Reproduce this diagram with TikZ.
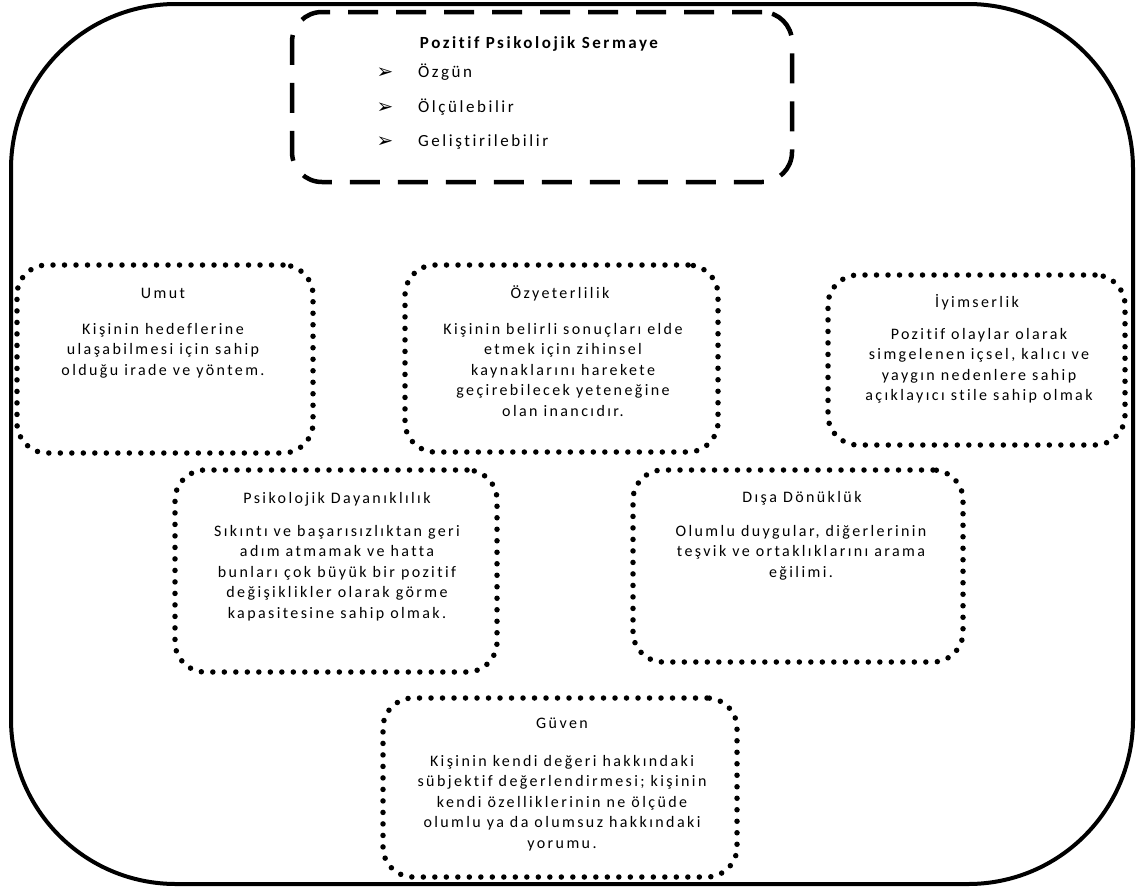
\documentclass[tikz,border=0pt]{standalone}
\usepackage{fontspec}
\setmainfont{Carlito}[LetterSpace=15, Ligatures={NoCommon}]
\newfontfamily\symfont{DejaVu Sans}

\begin{document}
\begin{tikzpicture}[x=1pt, y=-1pt,
  every node/.style = {inner sep=0pt, align=center,
    font=\fontsize{16}{20.5}\selectfont}]
    \tikzstyle{frame}=[draw, shape=rectangle, line width=4pt, rounded corners=165pt]
    \tikzstyle{dashbox}=[draw, shape=rectangle, line width=4.5pt, rounded corners=30pt,
      dash pattern=on 30pt off 18pt]
    \tikzstyle{dotbox}=[draw, shape=rectangle, line width=5.5pt, rounded corners=30pt,
      line cap=round, dash pattern=on 0pt off 11.5pt]
    \tikzstyle{head}=[anchor=base]
    \tikzstyle{body}=[anchor=north]
  \useasboundingbox (0,0) rectangle (1139,889);
  \node [frame, minimum width=1122pt, minimum height=880pt] (frame) at (572,444) {};
  \node [dashbox, minimum width=500pt, minimum height=170pt] (psycap) at (542,97) {};
  \node [head, font=\fontsize{17}{20}\selectfont\bfseries] (psycapT) at (539,48)
    {Pozitif Psikolojik Sermaye};
  \foreach \i/\y/\t in {1/77/Özgün, 2/112/Ölçülebilir, 3/146/Geliştirilebilir} {
    \node [head, font=\fontsize{20}{20}\symfont] (arr\i) at (385,\y+1) {➢};
    \node [anchor=base west, font=\fontsize{17}{20}\selectfont] (item\i) at (418,\y) {\t};
  }
  \node [dotbox, minimum width=296pt, minimum height=188pt] (umut) at (165,359) {};
  \node [head] (umutT) at (163,298) {Umut};
  \node [body] (umutB) at (163,323) {Kişinin hedeflerine\\ulaşabilmesi için sahip\\olduğu irade ve yöntem.};
  \node [dotbox, minimum width=313pt, minimum height=187pt] (ozy) at (561.5,358.5) {};
  \node [head] (ozyT) at (560,298) {Özyeterlilik};
  \node [body] (ozyB) at (563,323) {Kişinin belirli sonuçları elde\\etmek için zihinsel\\kaynaklarını harekete\\geçirebilecek yeteneğine\\olan inancıdır.};
  \node [dotbox, minimum width=297pt, minimum height=170pt] (iyim) at (976.5,360) {};
  \node [head] (iyimT) at (977,307) {İyimserlik};
  \node [body] (iyimB) at (979,328) {Pozitif olaylar olarak\\simgelenen içsel, kalıcı ve\\yaygın nedenlere sahip\\açıklayıcı stile sahip olmak};
  \node [dotbox, minimum width=322pt, minimum height=202pt] (dayan) at (336,571) {};
  \node [head] (dayanT) at (337,503) {Psikolojik Dayanıklılık};
  \node [body] (dayanB) at (337,525) {Sıkıntı ve başarısızlıktan geri\\adım atmamak ve hatta\\bunları çok büyük bir pozitif\\değişiklikler olarak görme\\kapasitesine sahip olmak.};
  \node [dotbox, minimum width=330pt, minimum height=192pt] (disa) at (798,566) {};
  \node [head] (disaT) at (802,502) {Dışa Dönüklük};
  \node [body] (disaB) at (801,525) {Olumlu duygular, diğerlerinin\\teşvik ve ortaklıklarını arama\\eğilimi.};
  \node [dotbox, minimum width=354pt, minimum height=179pt] (guven) at (560,787.5) {};
  \node [head] (guvenT) at (562,728) {Güven};
  \node [body] (guvenB) at (562,755) {Kişinin kendi değeri hakkındaki\\sübjektif değerlendirmesi; kişinin\\kendi özelliklerinin ne ölçüde\\olumlu ya da olumsuz hakkındaki\\yorumu.};
\end{tikzpicture}
\end{document}
